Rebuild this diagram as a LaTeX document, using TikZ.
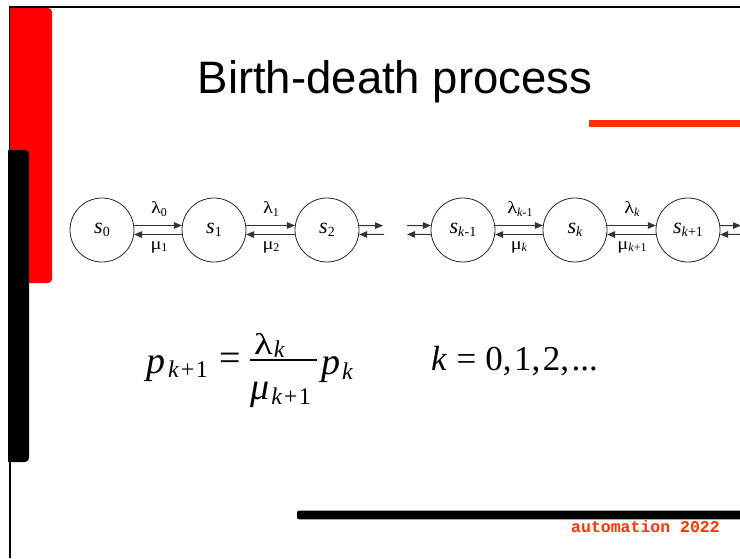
\documentclass[tikz,border=0pt]{standalone}
\usepackage{fontspec}
\setmainfont{Liberation Serif}
\newfontfamily\arialf{Liberation Sans}
\newfontfamily\courf{Liberation Mono}
\usetikzlibrary{arrows.meta}
\definecolor{barred}{HTML}{FF0000}
\definecolor{orng}{HTML}{FF3300}
\newcommand\stl[2]{{\fontsize{22}{24}\selectfont\itshape #1}\raisebox{-3.5pt}{\fontsize{14}{15}\selectfont #2}}
\newcommand\gll[2]{{\fontsize{17}{20}\selectfont\scalebox{1.2}[1]{#1}}\raisebox{-2.5pt}{\fontsize{12}{13}\selectfont #2}}
\newcommand\eqf{\fontsize{38}{40}\selectfont}
\newcommand\eqs{\fontsize{24}{26}\selectfont}
\begin{document}
\begin{tikzpicture}[x=1pt,y=-1pt,
  st/.style={draw=black!85, line width=0.8pt, circle, minimum size=64pt, inner sep=0pt},
  arr/.style={draw=black!80, line width=1pt, -{Triangle[length=8pt,width=6.5pt]}},
  lab/.style={inner sep=0pt}]
\useasboundingbox (0,0) rectangle (740,558);
\fill[white] (0,0) rectangle (740,558);
% frame
\draw[line width=2pt] (10,558) -- (10,7) -- (741,7);
% red bar
\fill[barred, rounded corners=4pt] (10,8) -- (52,8) -- (52,283) -- (10,283) -- cycle;
\fill[barred] (10,8) rectangle (30,283);
% black bar
\fill[black, rounded corners=4pt] (8,150) -- (29,150) -- (29,462) -- (8,462) -- cycle;
\fill[black] (8,150) rectangle (18,462);
% orange line
\fill[orng] (589,120) rectangle (741,126.5);
% bottom black line
\fill[black, rounded corners=2pt] (297,510.7) rectangle (745,519.3);
% title
\node[anchor=base, inner sep=0pt] (title) at (395,93) {\arialf\fontsize{45.5}{50}\selectfont Birth-death process};
% footer
\node[anchor=base west, inner sep=0pt, text=orng] (foot) at (571,532) {\courf\bfseries\fontsize{16.5}{18}\selectfont automation 2022};
% states
\node[st] (s0) at (102,230) {\stl{s}{0}};
\node[st] (s1) at (214,230) {\stl{s}{1}};
\node[st] (s2) at (327,230) {\stl{s}{2}};
\node[st] (skm) at (463,230) {\stl{s}{\textit{k}-1}};
\node[st] (sk) at (575,230) {\stl{s}{\textit{k}}};
\node[st] (skp) at (688,230) {\stl{s}{\textit{k}+1}};
% stub ends
\coordinate (e2t) at (383,225.6);
\coordinate (e2b) at (384,234.4);
\coordinate (bkt) at (407,225.6);
\coordinate (bkb) at (407,234.4);
\coordinate (ekt) at (741,225.6);
\coordinate (ekb) at (745,234.4);
% arrows
\draw[arr] (s0.8) -- (s1.172);
\draw[arr] (s1.188) -- (s0.352);
\draw[arr] (s1.8) -- (s2.172);
\draw[arr] (s2.188) -- (s1.352);
\draw[arr] (s2.8) -- (e2t);
\draw[arr] (e2b) -- (s2.352);
\draw[arr] (bkt) -- (skm.172);
\draw[arr] (skm.188) -- (bkb);
\draw[arr] (skm.8) -- (sk.172);
\draw[arr] (sk.188) -- (skm.352);
\draw[arr] (sk.8) -- (skp.172);
\draw[arr] (skp.188) -- (sk.352);
\draw[arr] (skp.8) -- (ekt);
\draw[arr] (ekb) -- (skp.352);
% rate labels
\node[lab] (l0) at (159,209) {\gll{λ}{0}};
\node[lab] (m1) at (159,247) {\gll{μ}{1}};
\node[lab] (l1) at (271,209) {\gll{λ}{1}};
\node[lab] (m2) at (271,247) {\gll{μ}{2}};
\node[lab] (lkm) at (520,209) {\gll{λ}{\textit{k}-1}};
\node[lab] (mk) at (519,247) {\gll{μ}{\textit{k}}};
\node[lab] (lk) at (632,209) {\gll{λ}{\textit{k}}};
\node[lab] (mkp) at (632,247) {\gll{μ}{\textit{k}+1}};
% equation
\node[anchor=base west, inner sep=0pt] (pk1) at (146,373) {\eqf\itshape p\kern3pt\raisebox{-4pt}{\eqs\itshape k\upshape\kern2pt+\kern1.5pt1}};
\node[inner sep=0pt] (eq) at (230,362) {\eqf =};
\node[anchor=base west, inner sep=0pt] (num) at (254,354) {{\fontsize{30}{33}\selectfont\scalebox{1.28}[1]{λ}}\kern1pt\raisebox{-3pt}{\eqs\itshape k}};
\draw[line width=1.2pt] (250,360) -- (317,360);
\node[anchor=base west, inner sep=0pt] (den) at (250,399) {\eqf\itshape μ\kern2pt\raisebox{-5pt}{\eqs\itshape k\upshape\kern2pt+\kern1.5pt1}};
\node[anchor=base west, inner sep=0pt] (pk) at (321,374) {\eqf\itshape p\kern2pt\raisebox{-5pt}{\eqs\itshape k}};
\node[anchor=base west, inner sep=0pt] (krange) at (431,370) {\fontsize{35}{36}\selectfont\itshape k\upshape\kern10pt=\kern9pt0,\kern2.5pt1,\kern2.5pt2,\kern2.5pt...};
\end{tikzpicture}
\end{document}
